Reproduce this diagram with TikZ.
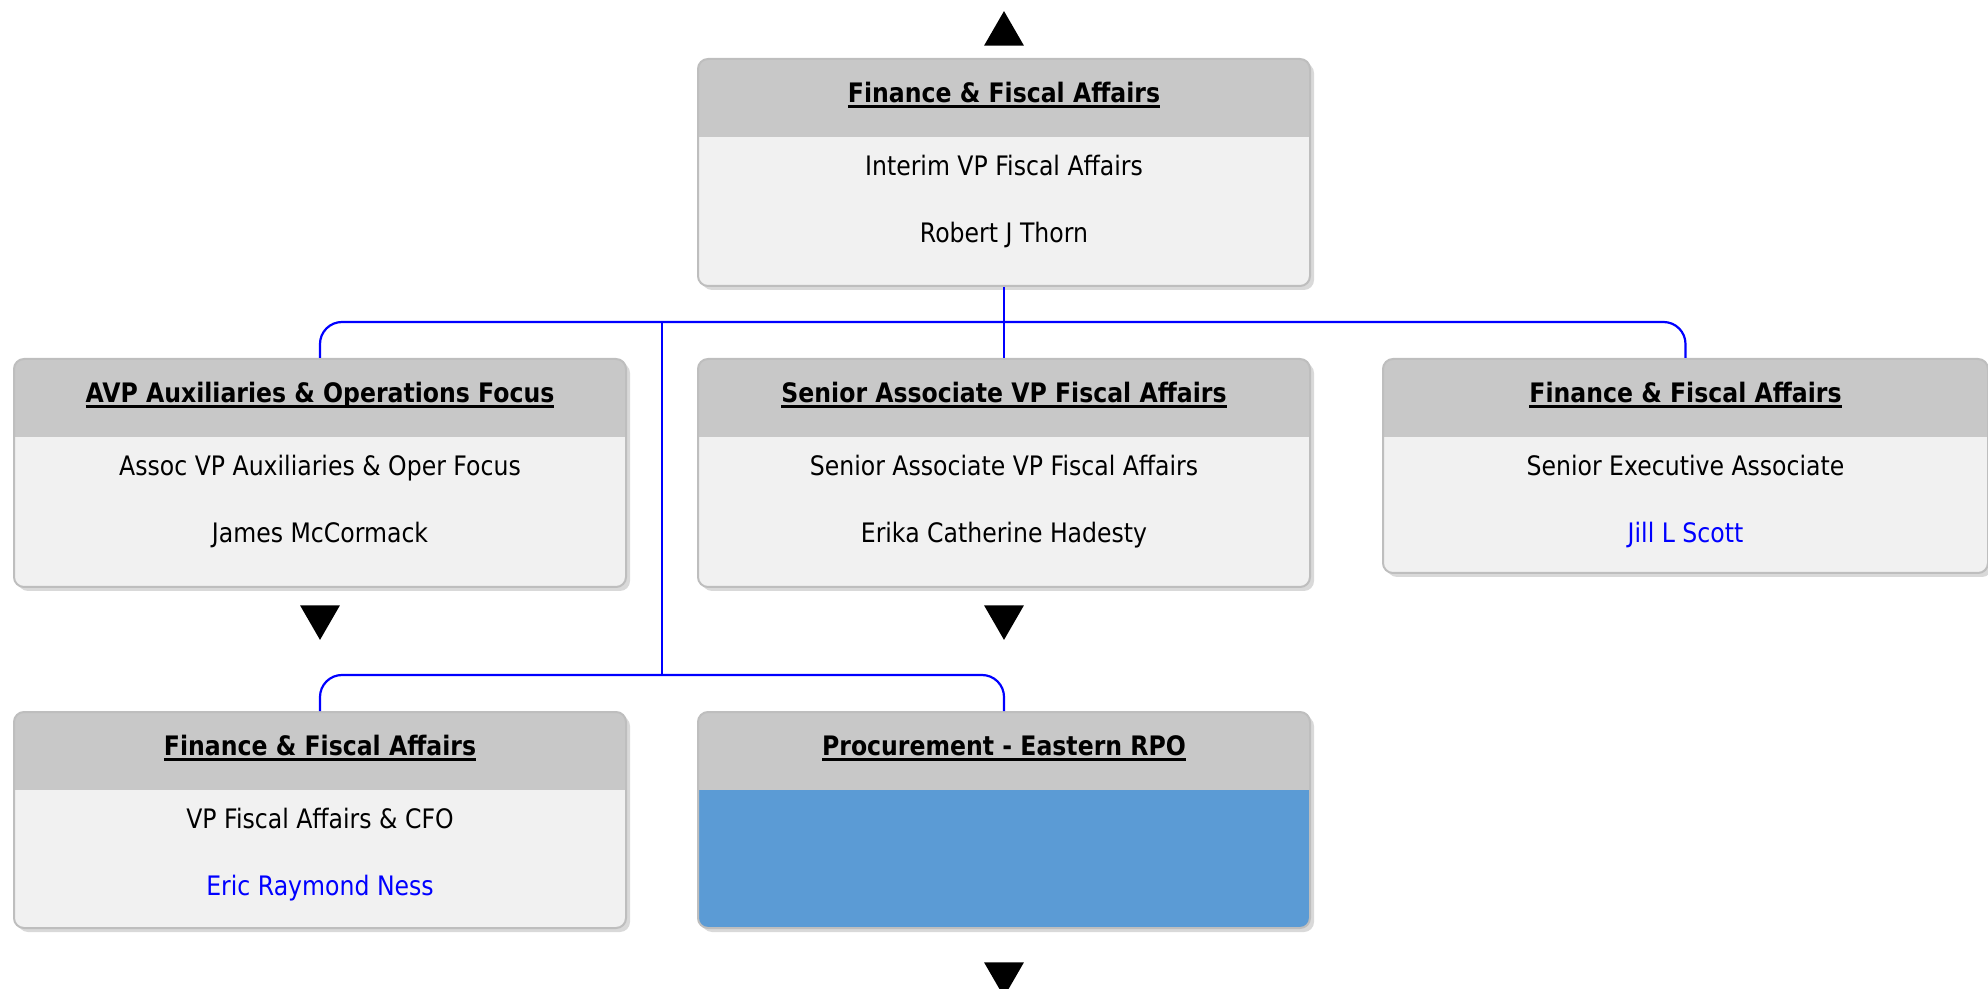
\documentclass[tikz,border=0pt]{standalone}
\usepackage{fontspec}
\setmainfont{DejaVu Sans}[FakeStretch=0.88]
\usepackage{tikz}
\usetikzlibrary{positioning,shadows,shapes.geometric}
\definecolor{hdrgray}{HTML}{C8C8C8}
\definecolor{bodygray}{HTML}{F1F1F1}
\definecolor{boxline}{HTML}{BEBEBE}
\definecolor{vacant}{HTML}{5B9BD5}
\definecolor{linkblue}{HTML}{0000FF}
\newcommand{\hdul}[1]{\setbox0\hbox{#1}\rlap{\vrule width\wd0 height -1.2pt depth 2.5pt}\box0}
\tikzstyle{orgbox}=[draw=boxline,line width=1pt,fill=bodygray,rounded corners=5pt,
  minimum width=306pt,anchor=north,inner sep=0pt,
  drop shadow={shadow xshift=2pt,shadow yshift=-2pt,opacity=.25,fill=black!60},
  path picture={\fill[hdrgray,sharp corners] (path picture bounding box.north west)
    rectangle ([yshift=-39pt]path picture bounding box.north east);}]
\tikzstyle{hdrtext}=[font=\fontsize{13.4pt}{16pt}\selectfont\bfseries,inner sep=0pt,text height=9.8pt,text depth=0pt]
\tikzstyle{bodytext}=[inner sep=0pt,text height=9.8pt,text depth=0pt]
\tikzstyle{namelink}=[bodytext,text=linkblue]
\tikzstyle{link}=[draw=linkblue,line width=1.1pt,rounded corners=11pt]
\tikzstyle{toggleup}=[regular polygon,regular polygon sides=3,fill=black,inner sep=0pt,minimum size=23pt]
\tikzstyle{toggledown}=[toggleup,shape border rotate=180]

\begin{document}
\begin{tikzpicture}[x=0.5pt,y=-0.5pt,font=\fontsize{13.4pt}{16pt}\selectfont]
    \useasboundingbox (0,0) rectangle (1988,989);
    % boxes
    \node [orgbox,minimum height=113.5pt] (vp) at (1004,58) {};
    \node [orgbox,minimum height=114pt] (avp) at (320,358) {};
    \node [orgbox,minimum height=114pt] (sav) at (1004,358) {};
    \node [orgbox,minimum height=107pt,minimum width=302.5pt] (sea) at (1685.5,358) {};
    \node [orgbox,minimum height=108pt] (cfo) at (320,711) {};
    \node [orgbox,minimum height=108pt,fill=vacant] (rpo) at (1004,711) {};
    % connectors
    \coordinate (bus) at (662,322);
    \coordinate (subbus) at (662,675);
    \draw [link] (vp.south) -- (sav.north);
    \draw [link] (avp.north) |- (bus) -| (sea.north);
    \draw [link] (bus) -- (subbus);
    \draw [link] (cfo.north) |- (subbus) -| (rpo.north);
    % texts
    \node [hdrtext] (vp-h) at ([yshift=-17.5pt]vp.north) {\hdul{Finance \& Fiscal Affairs}};
    \node [bodytext] (vp-a) at ([yshift=-54pt]vp.north) {Interim VP Fiscal Affairs};
    \node [bodytext] (vp-b) at ([yshift=-87.5pt]vp.north) {Robert J Thorn};
    \node [hdrtext] (avp-h) at ([yshift=-17.5pt]avp.north) {\hdul{AVP Auxiliaries \& Operations Focus}};
    \node [bodytext] (avp-a) at ([yshift=-54pt]avp.north) {Assoc VP Auxiliaries \& Oper Focus};
    \node [bodytext] (avp-b) at ([yshift=-87.5pt]avp.north) {James McCormack};
    \node [hdrtext] (sav-h) at ([yshift=-17.5pt]sav.north) {\hdul{Senior Associate VP Fiscal Affairs}};
    \node [bodytext] (sav-a) at ([yshift=-54pt]sav.north) {Senior Associate VP Fiscal Affairs};
    \node [bodytext] (sav-b) at ([yshift=-87.5pt]sav.north) {Erika Catherine Hadesty};
    \node [hdrtext] (sea-h) at ([yshift=-17.5pt]sea.north) {\hdul{Finance \& Fiscal Affairs}};
    \node [bodytext] (sea-a) at ([yshift=-54pt]sea.north) {Senior Executive Associate};
    \node [namelink] (sea-b) at ([yshift=-87.5pt]sea.north) {Jill L Scott};
    \node [hdrtext] (cfo-h) at ([yshift=-17.5pt]cfo.north) {\hdul{Finance \& Fiscal Affairs}};
    \node [bodytext] (cfo-a) at ([yshift=-54pt]cfo.north) {VP Fiscal Affairs \& CFO};
    \node [namelink] (cfo-b) at ([yshift=-87.5pt]cfo.north) {Eric Raymond Ness};
    \node [hdrtext] (rpo-h) at ([yshift=-17.5pt]rpo.north) {\hdul{Procurement - Eastern RPO}};
    % expand / collapse marks
    \node [toggleup,above=6pt of vp] (vp-up) {};
    \node [toggledown,below=8.5pt of avp] (avp-dn) {};
    \node [toggledown,below=8.5pt of sav] (sav-dn) {};
    \node [toggledown,below=16.5pt of rpo] (rpo-dn) {};
\end{tikzpicture}
\end{document}
